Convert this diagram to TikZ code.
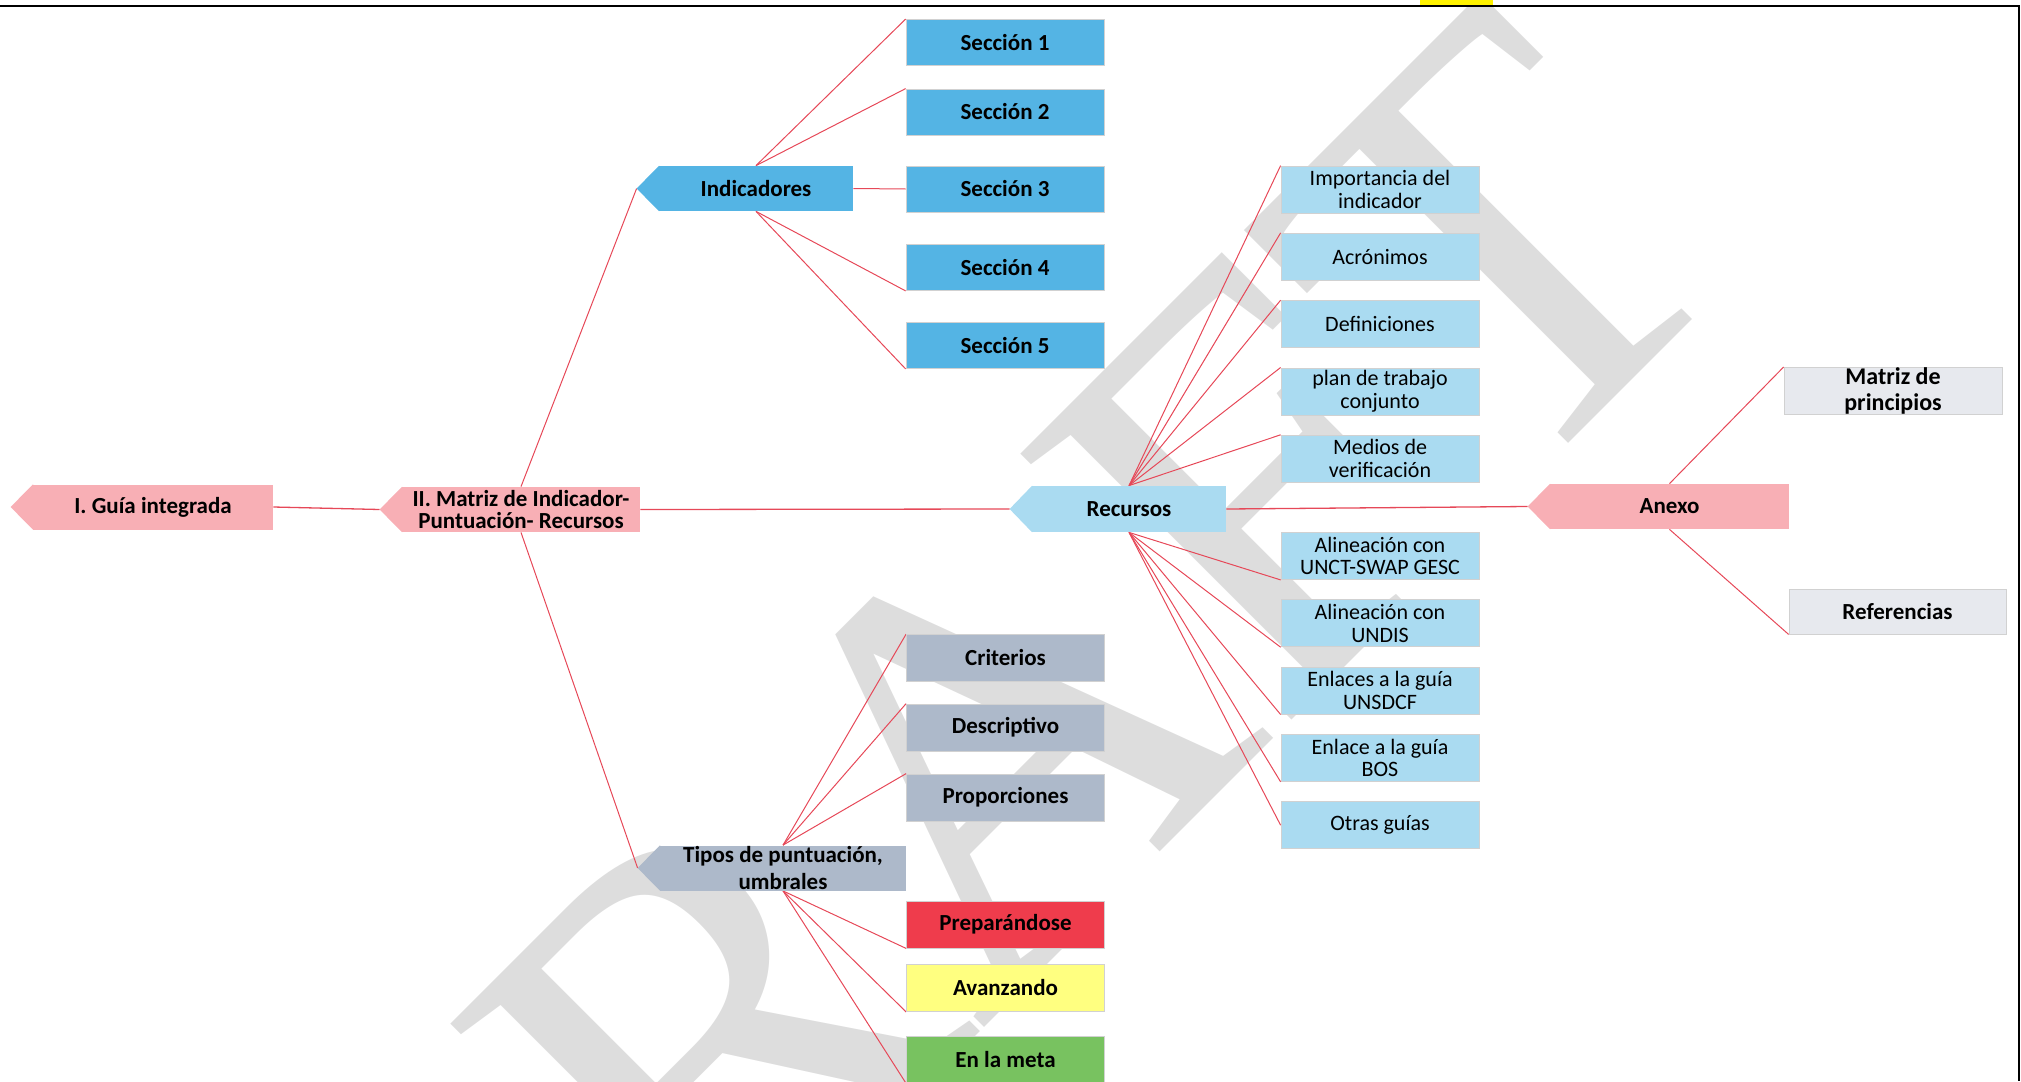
\documentclass[tikz,border=0pt]{standalone}
\usepackage{fontspec}
\setmainfont{Carlito}
\newfontfamily\marcafont{Liberation Serif}

\definecolor{rosa}{RGB}{248,175,181}
\definecolor{azul}{RGB}{84,180,228}
\definecolor{celeste}{RGB}{170,219,241}
\definecolor{grisazul}{RGB}{173,185,202}
\definecolor{rojo}{RGB}{239,60,76}
\definecolor{amarillo}{RGB}{255,255,128}
\definecolor{verde}{RGB}{120,194,96}
\definecolor{grisclaro}{RGB}{231,233,238}
\definecolor{lineared}{RGB}{230,72,88}
\definecolor{marcagris}{RGB}{221,221,221}

\pgfdeclarelayer{marca}
\pgfdeclarelayer{lineas}
\pgfsetlayers{marca,lineas,main}

\tikzset{every picture/.style={line width=0.75pt}}
\tikzset{
  etiqueta/.style={inner sep=1pt, minimum height=22.5pt, align=center, font=\bfseries\fontsize{11.5}{11}\selectfont},
  caja/.style={draw=black!18, line width=0.4pt, inner sep=1pt, minimum width=99pt, minimum height=23.5pt, align=center, font=\bfseries\fontsize{11.5}{11}\selectfont},
  recurso/.style={caja, fill=celeste, font=\fontsize{11}{11.3}\selectfont},
  rama/.style={draw=lineared, line width=0.5pt},
}

% left pointing tip of a tag node
\newcommand{\punta}[2]{%
  \fill[#2] ([xshift=0.3pt]#1.north west) -- ([xshift=-11pt]#1.west) -- ([xshift=0.3pt]#1.south west) -- cycle;
  \coordinate (#1-tip) at ([xshift=-11pt]#1.west);
}

\begin{document}
\begin{tikzpicture}[x=0.5pt,y=0.5pt,yscale=-1,xscale=1]
\useasboundingbox (0,0) rectangle (2021,1081);

%Watermark
\begin{pgfonlayer}{marca}
\node[text=marcagris, rotate=45, anchor=base west, inner sep=0pt, font=\marcafont\fontsize{290}{290}\selectfont] (borrador) at (411,1601) {DRAFT};
\end{pgfonlayer}

%Frame
\draw[line width=1.1pt] (0,6) -- (2019,6) -- (2019,1081);
\fill[yellow] (1420,0) rectangle (1493,5);

% Text Node
\node[etiqueta, fill=rosa, minimum width=120pt] (guia) at (153,507) {I. Guía integrada};
\punta{guia}{rosa}
% Text Node
\node[etiqueta, fill=rosa, minimum width=119pt] (matriz) at (521,509.5) {II. Matriz de Indicador-\\Puntuación- Recursos};
\punta{matriz}{rosa}
% Text Node
\node[etiqueta, fill=azul, minimum width=97pt] (indicadores) at (756,188.5) {Indicadores};
\punta{indicadores}{azul}
% Text Node
\node[etiqueta, fill=grisazul, minimum width=123pt, inner sep=0pt, font=\bfseries\fontsize{11.5}{13.5}\selectfont] (tipos) at (783,868) {Tipos de puntuación,\\umbrales};
\punta{tipos}{grisazul}
% Text Node
\node[etiqueta, fill=celeste, minimum width=97pt, minimum height=23pt] (recursos) at (1129,509) {Recursos};
\punta{recursos}{celeste}
% Text Node
\node[etiqueta, fill=rosa, minimum width=119.5pt] (anexo) at (1669.5,506.5) {Anexo};
\punta{anexo}{rosa}

%Secciones
\node[caja, fill=azul, minimum height=23pt] (sec1) at (1005,42.5) {Sección 1};
\node[caja, fill=azul, minimum height=23pt] (sec2) at (1005,112) {Sección 2};
\node[caja, fill=azul, minimum height=23pt] (sec3) at (1005,189) {Sección 3};
\node[caja, fill=azul, minimum height=23pt] (sec4) at (1005,267.5) {Sección 4};
\node[caja, fill=azul, minimum height=23pt] (sec5) at (1005,345.5) {Sección 5};

%Tipos de puntuacion
\node[caja, fill=grisazul] (criterios) at (1005.5,658) {Criterios};
\node[caja, fill=grisazul] (descriptivo) at (1005.5,727.5) {Descriptivo};
\node[caja, fill=grisazul] (proporciones) at (1005.5,797.5) {Proporciones};
\node[caja, fill=rojo] (preparandose) at (1005.5,924.5) {Preparándose};
\node[caja, fill=amarillo] (avanzando) at (1005.5,988) {Avanzando};
\node[caja, fill=verde] (meta) at (1005.5,1059.5) {En la meta};

%Recursos
\node[recurso] (importancia) at (1380,189.5) {Importancia del\\indicador};
\node[recurso] (acronimos) at (1380,256.8) {Acrónimos};
\node[recurso] (definiciones) at (1380,324.1) {Definiciones};
\node[recurso] (plan) at (1380,391.4) {plan de trabajo\\conjunto};
\node[recurso] (medios) at (1380,458.7) {Medios de\\verificación};
\node[recurso] (unct) at (1380,556) {Alineación con\\UNCT-SWAP GESC};
\node[recurso] (undis) at (1380,623.3) {Alineación con\\UNDIS};
\node[recurso] (unsdcf) at (1380,690.6) {Enlaces a la guía\\UNSDCF};
\node[recurso] (bos) at (1380,757.9) {Enlace a la guía\\BOS};
\node[recurso] (otras) at (1380,825.2) {Otras guías};

%Anexo
\node[caja, fill=grisclaro, minimum width=109pt, inner sep=0pt, font=\bfseries\fontsize{12}{13.3}\selectfont] (principios) at (1893,391) {Matriz de\\principios};
\node[caja, fill=grisclaro, minimum width=108.5pt, minimum height=22.5pt] (referencias) at (1897.5,611.5) {Referencias};

%Lines
\begin{pgfonlayer}{lineas}
\draw[rama, line width=0.65pt] (guia.east) -- (matriz-tip);
\draw[rama, line width=0.65pt] (matriz.east) -- (recursos-tip);
\draw[rama, line width=0.65pt] (recursos.east) -- (anexo-tip);
\draw[rama] (matriz.north) -- (indicadores-tip);
\draw[rama] (matriz.south) -- (tipos-tip);
\draw[rama] (indicadores.north) -- (sec1.north west);
\draw[rama] (indicadores.north) -- (sec2.north west);
\draw[rama] (indicadores.east) -- (sec3.west);
\draw[rama] (indicadores.south) -- (sec4.south west);
\draw[rama] (indicadores.south) -- (sec5.south west);
\draw[rama] (tipos.north) -- (criterios.north west);
\draw[rama] (tipos.north) -- (descriptivo.north west);
\draw[rama] (tipos.north) -- (proporciones.north west);
\draw[rama] (tipos.south) -- (preparandose.south west);
\draw[rama] (tipos.south) -- (avanzando.south west);
\draw[rama] (tipos.south) -- (meta.south west);
\draw[rama] (recursos.north) -- (importancia.north west);
\draw[rama] (recursos.north) -- (acronimos.north west);
\draw[rama] (recursos.north) -- (definiciones.north west);
\draw[rama] (recursos.north) -- (plan.north west);
\draw[rama] (recursos.north) -- (medios.north west);
\draw[rama] (recursos.south) -- (unct.south west);
\draw[rama] (recursos.south) -- (undis.south west);
\draw[rama] (recursos.south) -- (unsdcf.south west);
\draw[rama] (recursos.south) -- (bos.south west);
\draw[rama] (recursos.south) -- (otras.west);
\draw[rama] (anexo.north) -- (principios.north west);
\draw[rama] (anexo.south) -- (referencias.south west);
\end{pgfonlayer}

\end{tikzpicture}
\end{document}
